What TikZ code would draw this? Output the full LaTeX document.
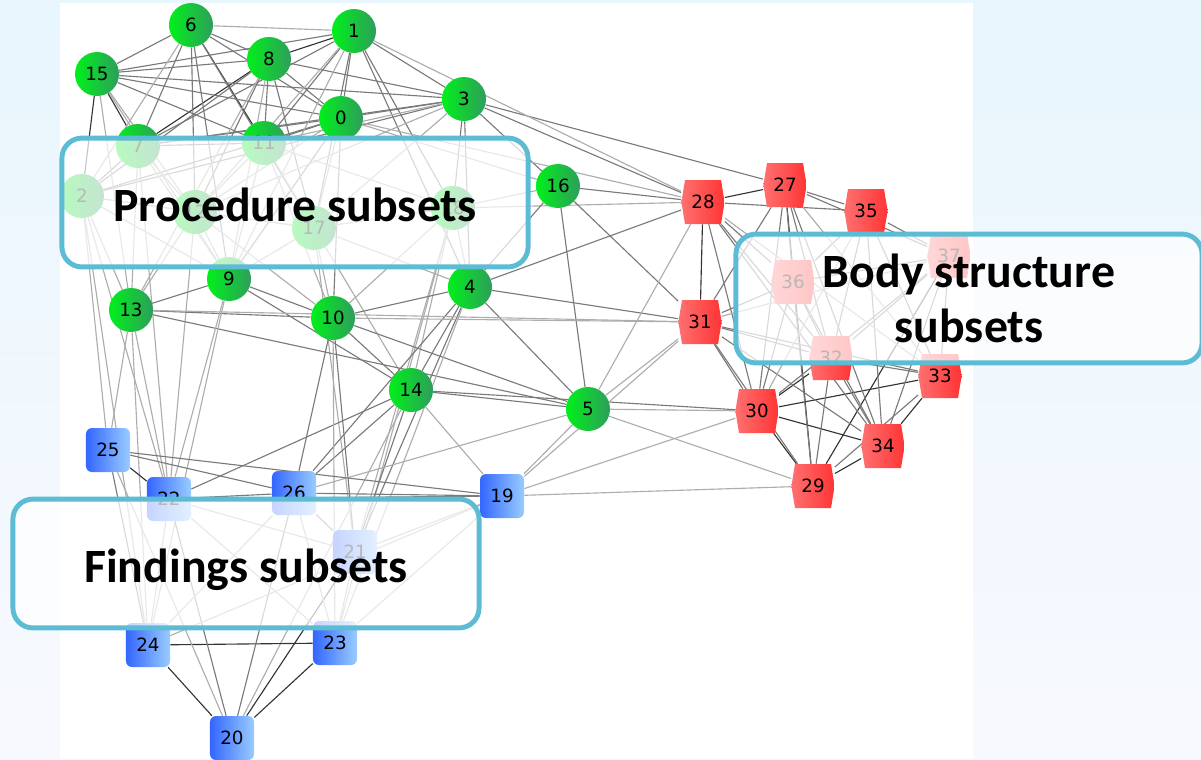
\documentclass[tikz,border=0pt]{standalone}
\usepackage{fontspec}
\setmainfont{Carlito}
\newfontfamily\numfont{DejaVu Sans}
\definecolor{gL}{RGB}{0,240,26}
\definecolor{gR}{RGB}{46,158,92}
\definecolor{bL}{RGB}{51,102,255}
\definecolor{bR}{RGB}{153,204,255}
\definecolor{rL}{RGB}{255,112,112}
\definecolor{rR}{RGB}{255,52,52}
\definecolor{frame}{RGB}{91,188,212}
\definecolor{bgT}{RGB}{232,246,253}
\definecolor{bgB}{RGB}{248,249,254}
\pgfdeclarelayer{bg}
\pgfdeclarelayer{edges}
\pgfsetlayers{bg,edges,main}
\tikzset{
  gnode/.style={circle, minimum size=1.1cm, inner sep=0pt, left color=gL, right color=gR,
    font=\numfont\fontsize{13}{13}\selectfont},
  bnode/.style={rectangle, rounded corners=0.15cm, minimum size=1.1cm, inner sep=0pt,
    left color=bL, right color=bR, font=\numfont\fontsize{13}{13}\selectfont},
  rnode/.style={rectangle, minimum width=1.08cm, minimum height=1.1cm, inner sep=0pt,
    font=\numfont\fontsize{13}{13}\selectfont,
    path picture={\shade[left color=rL, right color=rR]
      ([xshift=0.09cm]path picture bounding box.north west) -- ([xshift=-0.09cm]path picture bounding box.north east)
      -- (path picture bounding box.east) -- ([xshift=-0.09cm]path picture bounding box.south east)
      -- ([xshift=0.09cm]path picture bounding box.south west) -- (path picture bounding box.west) -- cycle;}},
  edgeD/.style={draw=black!80, line width=0.8pt},
  edgeM/.style={draw=black!52, line width=0.8pt},
  edgeL/.style={draw=black!32, line width=0.8pt},
  groupbox/.style={draw=frame, line width=3.5pt, rounded corners=0.5cm, fill=white, fill opacity=0.72,
    text opacity=1, minimum width=11.65cm, minimum height=3.22cm, align=center,
    font=\bfseries\fontsize{34}{39}\selectfont},
  oneline/.style={text height=0.95cm, text depth=0pt}
}
\begin{document}
\begin{tikzpicture}[x=0.025cm, y=-0.025cm]
    \useasboundingbox (0,0) rectangle (1201,759);
    % slide background
    \begin{pgfonlayer}{bg}
        \shade[top color=bgT, bottom color=bgB] (0,0) rectangle (1201,759);
        \fill[white] (60,3) rectangle (973,759);
    \end{pgfonlayer}

    % Procedure nodes
    \node[gnode] (n0) at (341,118) {0};
    \node[gnode] (n1) at (354,31) {1};
    \node[gnode] (n2) at (82,196) {2};
    \node[gnode] (n3) at (464,99) {3};
    \node[gnode] (n4) at (470,287) {4};
    \node[gnode] (n5) at (588,409) {5};
    \node[gnode] (n6) at (191,25) {6};
    \node[gnode] (n7) at (138,146) {7};
    \node[gnode] (n8) at (269,59) {8};
    \node[gnode] (n9) at (229,279) {9};
    \node[gnode] (n10) at (333,318) {10};
    \node[gnode] (n11) at (264,143) {11};
    \node[gnode] (n12) at (195,212) {12};
    \node[gnode] (n13) at (131,310) {13};
    \node[gnode] (n14) at (411,390) {14};
    \node[gnode] (n15) at (97,74) {15};
    \node[gnode] (n16) at (558,186) {16};
    \node[gnode] (n17) at (314,228) {17};
    \node[gnode] (n18) at (453,208) {18};

    % Findings nodes
    \node[bnode] (n19) at (502,496) {19};
    \node[bnode] (n20) at (232,738) {20};
    \node[bnode] (n21) at (355,552) {21};
    \node[bnode] (n22) at (169,499) {22};
    \node[bnode] (n23) at (335,643) {23};
    \node[bnode] (n24) at (148,645) {24};
    \node[bnode] (n25) at (108,450) {25};
    \node[bnode] (n26) at (294,493) {26};

    % Body structure nodes
    \node[rnode] (n27) at (785,185) {27};
    \node[rnode] (n28) at (703,202) {28};
    \node[rnode] (n29) at (813,486) {29};
    \node[rnode] (n30) at (757,411) {30};
    \node[rnode] (n31) at (700,322) {31};
    \node[rnode] (n32) at (831,358) {32};
    \node[rnode] (n33) at (940,376) {33};
    \node[rnode] (n34) at (883,446) {34};
    \node[rnode] (n35) at (866,211) {35};
    \node[rnode] (n36) at (793,282) {36};
    \node[rnode] (n37) at (949,256) {37};

    % Connections
    \begin{pgfonlayer}{edges}
        \path[edgeD] (n15) edge (n2) edge (n7) (n6) edge (n11) (n8) edge (n1) edge (n7);
        \path[edgeM] (n15) edge (n6) edge (n8) edge (n1) edge (n0) edge (n3) edge (n11);
        \path[edgeM] (n6) edge (n8) edge (n7) edge (n0) edge (n12) edge (n9) edge (n17);
        \path[edgeM] (n8) edge (n0) edge (n11) edge (n2) edge (n12) edge (n17) edge (n3);
        \path[edgeM] (n1) edge (n0) edge (n3) edge (n7) edge (n11) edge (n17) edge (n18) edge (n4);
        \path[edgeM] (n0) edge (n3) edge (n7) edge (n11) edge (n2) edge (n10) edge (n9);
        \path[edgeM] (n3) edge (n7) edge (n2) edge (n18) edge (n16) edge (n4) edge (n28) edge (n27);
        \path[edgeM] (n7) edge (n11) edge (n2);
        \path[edgeL] (n6) edge (n1) edge (n2) (n15) edge (n12) edge (n13) edge (n9);
        \path[edgeL] (n8) edge (n9) edge (n13) (n1) edge (n9) edge (n12) edge (n28);
        \path[edgeL] (n0) edge (n12) edge (n16) edge (n17) edge (n28) (n3) edge (n11) edge (n12) edge (n17);
        \path[edgeL] (n7) edge (n12) edge (n13) edge (n9) edge (n22);
        \path[edgeL] (n11) edge (n12) edge (n17) edge (n9) edge (n10) edge (n18);
        \path[edgeL] (n2) edge (n12) edge (n13) edge (n9) edge (n17) edge (n25) edge (n22) edge (n24);
        \path[edgeL] (n12) edge (n9) edge (n13) edge (n17) edge (n10) edge (n22);
        \path[edgeL] (n17) edge (n10) edge (n9) edge (n18) edge (n14) edge (n4) edge (n21);
        \path[edgeL] (n18) edge (n4) edge (n14) edge (n10) edge (n16) edge (n21) edge (n23) edge (n28);
        \path[edgeM] (n16) edge (n4) edge (n5) edge (n28) edge (n31);
        \path[edgeM] (n9) edge (n13) edge (n10) edge (n14) (n13) edge (n10) edge (n5);
        \path[edgeM] (n10) edge (n14) edge (n5) edge (n26) edge (n21) edge (n4);
        \path[edgeM] (n4) edge (n14) edge (n5) edge (n26) edge (n21) edge (n28) edge (n31);
        \path[edgeM] (n14) edge (n5) edge (n26) edge (n21) edge (n22) edge (n30);
        \path[edgeL] (n13) edge (n25) edge (n22) edge (n24) edge (n31) (n9) edge (n22) edge (n24);
        \path[edgeL] (n10) edge (n23) edge (n31) (n4) edge (n23) (n14) edge (n19) edge (n20);
        \path[edgeL] (n5) edge (n19) edge (n30) edge (n31) edge (n28) edge (n29) edge (n26);
        % findings
        \path[edgeD] (n25) edge (n22) (n24) edge (n23) edge (n20) (n23) edge (n20) (n21) edge (n20);
        \path[edgeM] (n25) edge (n26) edge (n19) edge (n24) (n22) edge (n26) edge (n19);
        \path[edgeM] (n26) edge (n19) edge (n21) edge (n20) (n22) edge (n20);
        \path[edgeL] (n25) edge (n20) (n22) edge (n24) edge (n23) edge (n21) (n26) edge (n23) edge (n24);
        \path[edgeL] (n19) edge (n21) edge (n24) edge (n23) edge (n29) edge (n30) edge (n31) (n21) edge (n23);
        % body structure
        \path[edgeD] (n28) edge (n27) edge (n31) (n30) edge (n29) edge (n34) edge (n32) edge (n33);
        \path[edgeD] (n29) edge (n34) edge (n37) (n27) edge (n29) (n34) edge (n33);
        \path[edgeM] (n28) edge (n35) edge (n36) edge (n32) edge (n30) edge (n34);
        \path[edgeM] (n27) edge (n35) edge (n36) edge (n32) edge (n30) edge (n34) edge (n37) edge (n31);
        \path[edgeM] (n35) edge (n36) edge (n37) edge (n32) edge (n33) edge (n34);
        \path[edgeM] (n31) edge (n36) edge (n32) edge (n30) edge (n29) edge (n33) edge (n34);
        \path[edgeM] (n36) edge (n32) edge (n30) edge (n29) edge (n37) edge (n34);
        \path[edgeM] (n37) edge (n33) edge (n34) edge (n32) edge (n30);
        \path[edgeM] (n32) edge (n29) edge (n34) edge (n33) (n33) edge (n29);
        \path[edgeL] (n28) edge (n33) (n35) edge (n30) (n31) edge (n37) (n27) edge (n33);
    \end{pgfonlayer}

    % subset boxes
    \node[groupbox, oneline] (proc) at (295,202.5) {Procedure subsets};
    \node[groupbox] (body) at (969,298.5) {Body structure\\subsets};
    \node[groupbox, oneline] (find) at (246,563.5) {Findings subsets};
\end{tikzpicture}
\end{document}
